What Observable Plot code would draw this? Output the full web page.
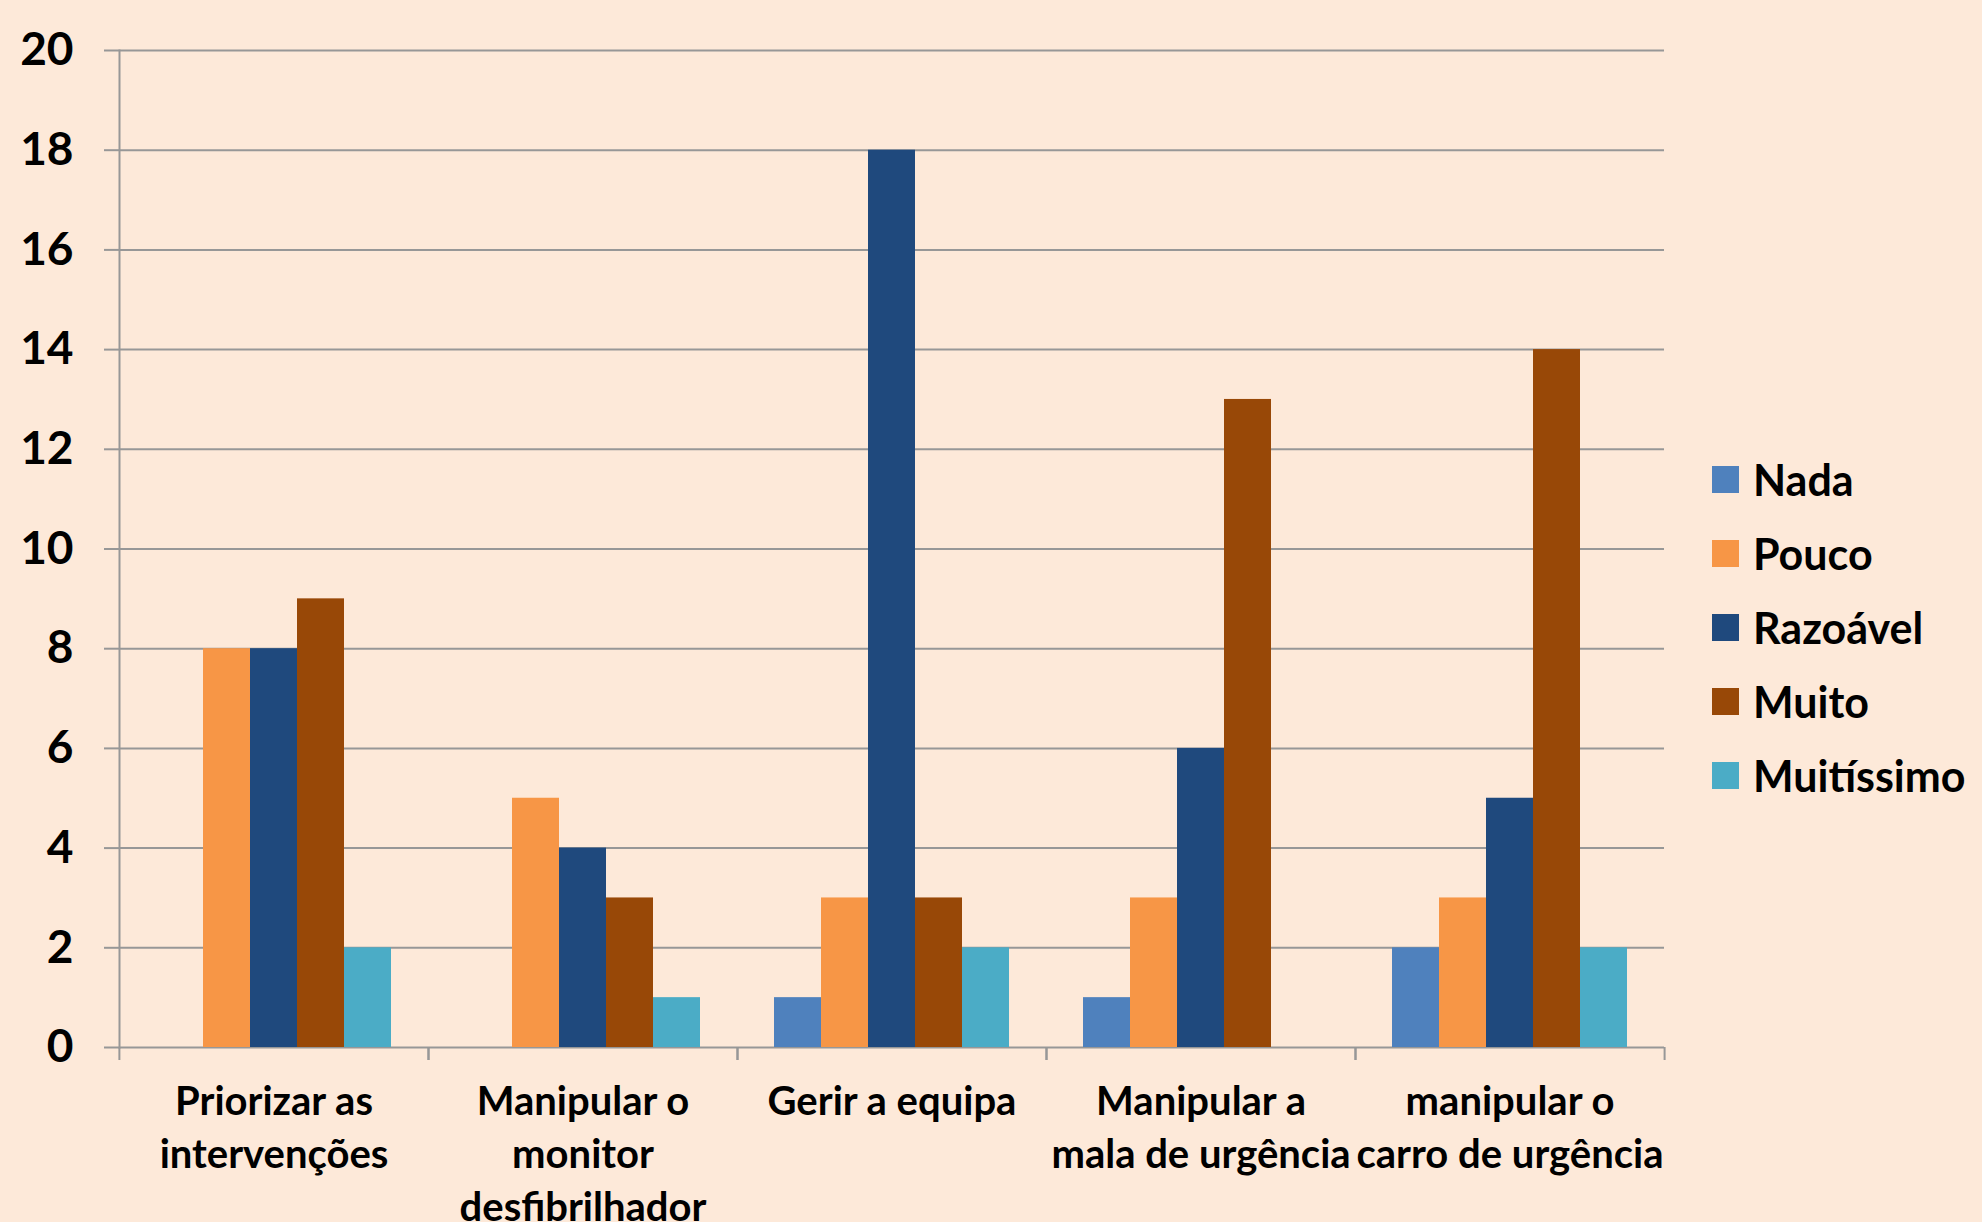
<!DOCTYPE html>
<html>
<head>
<meta charset="utf-8">
<script src="https://cdn.jsdelivr.net/npm/d3@7"></script>
<script src="https://cdn.jsdelivr.net/npm/@observablehq/plot@0.6"></script>
<style>
  html, body { margin: 0; padding: 0; background: #FDE9D9; }
  #wrap { position: relative; width: 1982px; height: 1222px; overflow: hidden; font-family: Lato, "Open Sans", sans-serif; font-weight: bold; }
  #legend { position: absolute; left: 1712px; top: 442px; }
  .row { display: flex; align-items: center; height: 74px; margin-top: 0; }
  .sw { width: 27px; height: 27px; margin-right: 14px; }
  .lab { font-size: 43px; color: #000; line-height: 1; }
</style>
</head>
<body>
<div id="wrap"></div>
<script>
const categories = [
  "Priorizar as\nintervenções",
  "Manipular o\nmonitor\ndesfibrilhador",
  "Gerir a equipa",
  "Manipular a\nmala de urgência",
  "manipular o\ncarro de urgência"
];
const series = ["Nada", "Pouco", "Razoável", "Muito", "Muitíssimo"];
const nada       = [0, 0, 1, 1, 2];
const pouco      = [8, 5, 3, 3, 3];
const razoavel   = [8, 4, 18, 6, 5];
const muito      = [9, 3, 3, 13, 14];
const muitissimo = [2, 1, 2, 0, 2];
const colors = ["#4F81BD", "#F79646", "#1F497D", "#984807", "#4BACC6"];
const yTicks = [0, 2, 4, 6, 8, 10, 12, 14, 16, 18, 20];

const valuesBySeries = [nada, pouco, razoavel, muito, muitissimo];
const table = [];
categories.forEach((c, i) => {
  series.forEach((s, j) => table.push({category: c, series: s, value: valuesBySeries[j][i]}));
});

const W = 1982, H = 1222, ML = 118, MR = 318, MT = 50, MB = 175;
const band = (W - ML - MR) / categories.length;
const gray = "#979797";

const chart = Plot.plot({
  width: W,
  height: H,
  marginLeft: ML,
  marginRight: MR,
  marginTop: MT,
  marginBottom: MB,
  style: {background: "transparent", fontFamily: "Lato, 'Open Sans', sans-serif", fontWeight: "bold", color: "black"},
  fx: {domain: categories, padding: 0, axis: null},
  x: {domain: series, paddingInner: 0, paddingOuter: 0.754, axis: null},
  y: {domain: [0, 20], axis: null},
  color: {domain: series, range: colors},
  marks: [
    Plot.gridY(yTicks, {stroke: gray, strokeOpacity: 1, strokeWidth: 2}),
    Plot.frame({anchor: "left", facetAnchor: "left", stroke: gray, strokeWidth: 2}),
    Plot.axisY(yTicks, {tickSize: 15, tickPadding: 31, fontSize: 46, tickFormat: d => String(d), stroke: gray, strokeWidth: 2, fill: "black", label: null}),
    Plot.barY(table, {fx: "category", x: "series", y: "value", fill: "series"}),
    Plot.axisFx({anchor: "bottom", tickSize: 13, dx: -band / 2, stroke: gray, strokeWidth: 2, fill: "none", label: null}),
    Plot.axisFx({anchor: "bottom", tickSize: 13, dx: band / 2, stroke: gray, strokeWidth: 2, fill: "none", label: null}),
    Plot.axisFx({anchor: "bottom", tickSize: 0, tickPadding: 30, fontSize: 40, lineHeight: 1.32, fill: "black", label: null})
  ]
});
const wrap = document.getElementById("wrap");
wrap.appendChild(chart);

const legend = document.createElement("div");
legend.id = "legend";
series.forEach((s, j) => {
  const row = document.createElement("div");
  row.className = "row";
  const sw = document.createElement("div");
  sw.className = "sw";
  sw.style.background = colors[j];
  const lab = document.createElement("span");
  lab.className = "lab";
  lab.textContent = s;
  row.appendChild(sw);
  row.appendChild(lab);
  legend.appendChild(row);
});
wrap.appendChild(legend);
</script>
</body>
</html>
